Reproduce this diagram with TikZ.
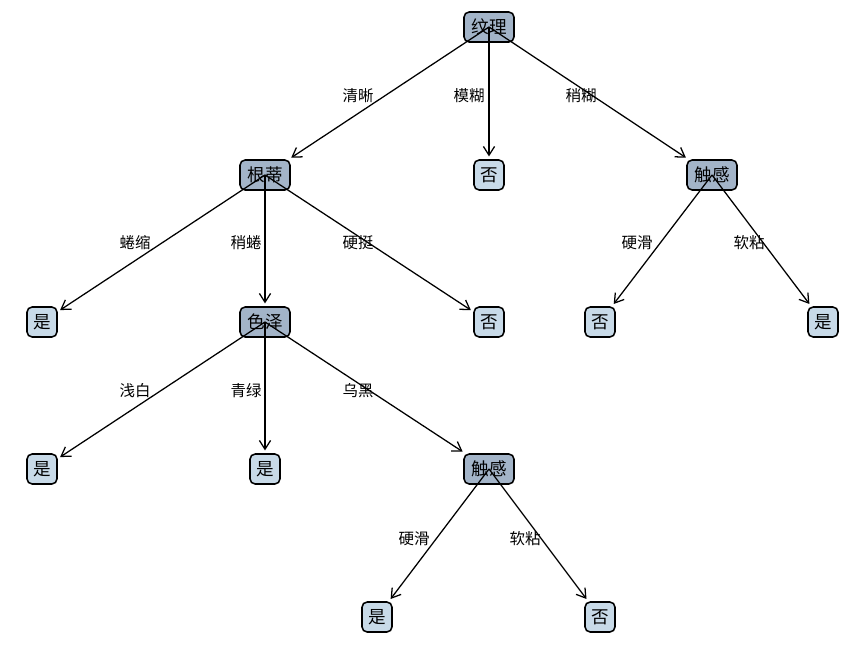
\documentclass[tikz,border=0pt]{standalone}
\usepackage{fontspec}
\newfontfamily\cjk{Noto Sans CJK SC}
\usetikzlibrary{arrows.meta}
\definecolor{splitfill}{RGB}{163,180,200}
\definecolor{leaffill}{RGB}{200,218,232}

\begin{document}
\begin{tikzpicture}[x=0.025cm, y=-0.025cm,
    split/.style={draw, line width=1.1pt, rounded corners=1.3mm, fill=splitfill, minimum width=1.25cm, minimum height=0.75cm, inner sep=0pt, font=\cjk\fontsize{12.5}{14}\selectfont},
    leaf/.style={split, fill=leaffill, minimum width=0.75cm},
    cond/.style={font=\cjk\fontsize{11}{13}\selectfont, inner sep=0pt},
    branch/.style={-{Straight Barb[length=2.2mm, width=2.8mm]}, line width=0.9pt, shorten >=2pt}
  ]
  \useasboundingbox (0,0) rectangle (853,651);

  % level 0 and 1
  \node[split] (wenli)  at (489,27)  {纹理};
  \node[split] (gendi)  at (265,175) {根蒂};
  \node[leaf]  (no1)    at (489,175) {否};
  \node[split] (chugan) at (712,175) {触感};

  % level 2
  \node[leaf]  (yes1)   at (42,322)  {是};
  \node[split] (sezhe)  at (265,322) {色泽};
  \node[leaf]  (no2)    at (489,322) {否};
  \node[leaf]  (no3)    at (600,322) {否};
  \node[leaf]  (yes2)   at (823,322) {是};

  % level 3 and 4
  \node[leaf]  (yes3)    at (42,469)  {是};
  \node[leaf]  (yes4)    at (265,469) {是};
  \node[split] (chugan2) at (489,469) {触感};
  \node[leaf]  (yes5)    at (377,617) {是};
  \node[leaf]  (no4)     at (600,617) {否};

  \draw[branch] (wenli.center)   -- (gendi);
  \draw[branch] (wenli.center)   -- (no1);
  \draw[branch] (wenli.center)   -- (chugan);
  \draw[branch] (gendi.center)   -- (yes1);
  \draw[branch] (gendi.center)   -- (sezhe);
  \draw[branch] (gendi.center)   -- (no2);
  \draw[branch] (chugan.center)  -- (no3);
  \draw[branch] (chugan.center)  -- (yes2);
  \draw[branch] (sezhe.center)   -- (yes3);
  \draw[branch] (sezhe.center)   -- (yes4);
  \draw[branch] (sezhe.center)   -- (chugan2);
  \draw[branch] (chugan2.center) -- (yes5);
  \draw[branch] (chugan2.center) -- (no4);

  \node[cond] (c1)  at (358,96)  {清晰};
  \node[cond] (c2)  at (469,96)  {模糊};
  \node[cond] (c3)  at (581,96)  {稍糊};
  \node[cond] (c4)  at (135,243) {蜷缩};
  \node[cond] (c5)  at (246,243) {稍蜷};
  \node[cond] (c6)  at (358,243) {硬挺};
  \node[cond] (c7)  at (637,243) {硬滑};
  \node[cond] (c8)  at (749,243) {软粘};
  \node[cond] (c9)  at (135,391) {浅白};
  \node[cond] (c10) at (246,391) {青绿};
  \node[cond] (c11) at (358,391) {乌黑};
  \node[cond] (c12) at (414,539) {硬滑};
  \node[cond] (c13) at (525,539) {软粘};
\end{tikzpicture}
\end{document}
